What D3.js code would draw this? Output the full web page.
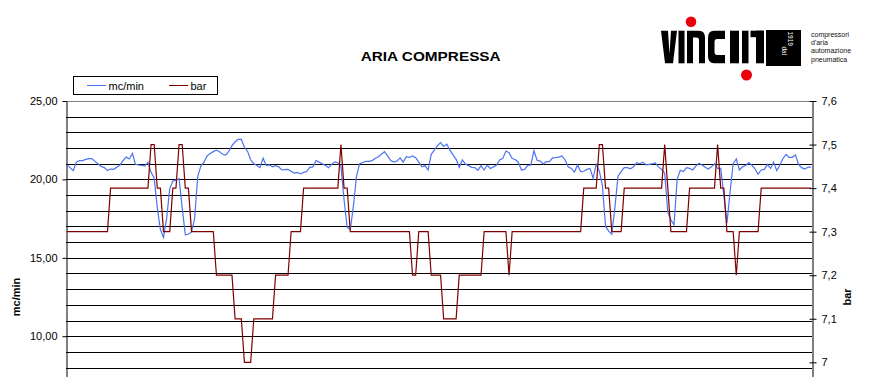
<!DOCTYPE html>
<meta charset="utf-8">

<!-- Load d3.js -->
<script src="https://d3js.org/d3.v7.min.js"></script>

<style>
  body { margin: 0; background: #fff; }
  svg { display: block; font-family: "Liberation Sans", Arial, sans-serif; }
</style>

<!-- Create a div where the graph will take place -->
<div id="my_dataviz"></div>

<script>

// air flow, mc/min (left axis), one value per sample
var flowValues = [
  20.92,20.75,20.56,21.1,21.2,21.2,21.28,21.33,21.33,21.15,20.98,20.82,20.75,20.56,20.66,20.64,20.78,20.92,21.2,21.42,
  21.3,21.66,20.96,20.92,20.9,20.85,21.1,20.45,20.1,18.2,16.8,16.3,17.5,19.4,19.9,19.95,20.05,18.2,16.46,16.5,
  16.65,17.5,20.2,20.85,21.1,21.5,21.65,21.77,21.87,21.77,21.6,21.55,21.8,22.15,22.4,22.55,22.55,22.05,21.8,21.25,
  21.0,20.88,20.75,21.35,20.88,20.93,20.8,20.87,20.8,20.6,20.62,20.64,20.52,20.4,20.45,20.35,20.45,20.5,20.77,20.8,
  21.2,21.1,21.0,20.88,20.75,20.96,21.12,21.06,20.85,18.7,16.95,16.8,18.3,20.2,21.0,21.08,21.15,21.15,21.2,21.33,
  21.45,21.6,21.77,21.5,21.2,21.1,21.17,21.37,21.1,21.45,21.4,21.5,21.39,21.1,20.8,20.88,20.6,21.6,21.87,22.15,
  22.35,22.1,22.25,21.87,21.56,21.28,20.77,21.24,20.97,20.88,20.77,20.75,20.58,20.88,20.6,20.9,20.7,20.8,20.92,21.24,
  21.34,21.81,21.7,21.33,21.27,21.08,20.6,20.64,20.9,20.92,21.83,21.22,21.17,20.98,21.13,21.13,21.37,21.39,21.42,21.5,
  21.24,20.8,20.7,20.47,20.92,20.5,20.52,20.64,20.7,20.07,20.96,20.52,19.6,17.0,16.7,16.5,18.2,20.2,20.5,20.75,
  20.75,20.68,20.8,21.07,21.0,21.1,20.92,20.96,21.0,21.05,20.8,20.64,20.4,17.9,17.42,17.1,20.0,20.58,20.5,20.75,
  20.7,20.6,20.85,21.03,20.92,20.78,20.66,20.8,21.0,20.7,20.7,19.0,17.2,19.2,21.0,21.3,20.6,20.8,20.88,21.07,
  20.9,20.68,20.33,20.6,20.64,20.96,20.7,21.1,20.56,20.92,21.33,21.6,21.4,21.41,21.56,20.95,20.75,20.66,20.77,20.8
];

// line pressure, bar (right axis)
var pressureValues = [
  7.3,7.3,7.3,7.3,7.3,7.3,7.3,7.3,7.3,7.3,7.3,7.3,7.3,7.3,7.4,7.4,7.4,7.4,7.4,7.4,
  7.4,7.4,7.4,7.4,7.4,7.4,7.4,7.5,7.5,7.4,7.4,7.3,7.3,7.3,7.4,7.4,7.5,7.5,7.4,7.4,
  7.3,7.3,7.3,7.3,7.3,7.3,7.3,7.3,7.2,7.2,7.2,7.2,7.2,7.2,7.1,7.1,7.1,7.0,7.0,7.0,
  7.1,7.1,7.1,7.1,7.1,7.1,7.1,7.2,7.2,7.2,7.2,7.2,7.3,7.3,7.3,7.3,7.4,7.4,7.4,7.4,
  7.4,7.4,7.4,7.4,7.4,7.4,7.4,7.4,7.5,7.4,7.4,7.3,7.3,7.3,7.3,7.3,7.3,7.3,7.3,7.3,
  7.3,7.3,7.3,7.3,7.3,7.3,7.3,7.3,7.3,7.3,7.3,7.2,7.2,7.3,7.3,7.3,7.3,7.2,7.2,7.2,
  7.2,7.1,7.1,7.1,7.1,7.1,7.2,7.2,7.2,7.2,7.2,7.2,7.2,7.2,7.3,7.3,7.3,7.3,7.3,7.3,
  7.3,7.3,7.2,7.3,7.3,7.3,7.3,7.3,7.3,7.3,7.3,7.3,7.3,7.3,7.3,7.3,7.3,7.3,7.3,7.3,
  7.3,7.3,7.3,7.3,7.3,7.3,7.4,7.4,7.4,7.4,7.4,7.5,7.5,7.4,7.4,7.3,7.3,7.3,7.3,7.4,
  7.4,7.4,7.4,7.4,7.4,7.4,7.4,7.4,7.4,7.4,7.4,7.4,7.5,7.4,7.3,7.3,7.3,7.3,7.3,7.3,
  7.4,7.4,7.4,7.4,7.4,7.4,7.4,7.4,7.4,7.5,7.4,7.4,7.3,7.3,7.3,7.2,7.3,7.3,7.3,7.3,
  7.3,7.3,7.3,7.4,7.4,7.4,7.4,7.4,7.4,7.4,7.4,7.4,7.4,7.4,7.4,7.4,7.4,7.4,7.4,7.4
];

var flowTicks = [10, 15, 20, 25];
var pressureTicks = [7, 7.1, 7.2, 7.3, 7.4, 7.5, 7.6];
var seriesNames = ["mc/min", "bar"];
var seriesColors = ["#4b73f2", "#800000"];
var logoLines = ["compressori", "d'aria", "automazione", "pneumatica"];

// set the dimensions of the page and the plot area
var width = 877, height = 377;
var plot = {left: 66, right: 812, top: 101, bottom: 493};

var svg = d3.select("#my_dataviz")
  .append("svg")
    .attr("width", width)
    .attr("height", height);

// scales
var x = d3.scaleLinear()
  .domain([0, flowValues.length - 1])
  .range([plot.left + 1, plot.right - 1]);

var yLeft = d3.scaleLinear()
  .domain([0, 25])
  .range([plot.bottom, plot.top]);

var yRight = d3.scaleLinear()
  .domain([6.7, 7.6])
  .range([plot.bottom, plot.top]);

var comma = function(s) { return s.replace(".", ","); };

// gridlines, one per unit of the left axis
svg.append("g")
  .selectAll("line")
  .data(d3.range(0, 25))
  .enter()
  .append("line")
    .attr("x1", plot.left)
    .attr("x2", plot.right)
    .attr("y1", function(d) { return Math.round(yLeft(d)) + 0.5; })
    .attr("y2", function(d) { return Math.round(yLeft(d)) + 0.5; })
    .attr("stroke", "#000")
    .attr("stroke-width", 1);

// plot area top border
svg.append("line")
  .attr("x1", plot.left).attr("x2", plot.right)
  .attr("y1", plot.top + 0.5).attr("y2", plot.top + 0.5)
  .attr("stroke", "#808080");

// left axis
var leftAxis = svg.append("g")
  .attr("transform", "translate(" + (plot.left + 0.5) + ",0)")
  .call(d3.axisLeft(yLeft)
    .tickValues(flowTicks)
    .tickSize(4)
    .tickSizeOuter(0)
    .tickPadding(5)
    .tickFormat(function(d) { return comma(d3.format(".2f")(d)); }));

// right axis
var rightAxis = svg.append("g")
  .attr("transform", "translate(" + (plot.right + 0.5) + ",0)")
  .call(d3.axisRight(yRight)
    .tickValues(pressureTicks)
    .tickSize(4)
    .tickSizeOuter(0)
    .tickPadding(5)
    .tickFormat(function(d) { return comma(d3.format("~g")(d)); }));
rightAxis.selectAll(".tick line").attr("x1", -3);

[leftAxis, rightAxis].forEach(function(a) {
  a.select(".domain").attr("stroke", "#000");
  a.selectAll(".tick line").attr("stroke", "#000");
  a.selectAll(".tick text")
    .attr("fill", "#000")
    .style("font-size", "11px")
    .style("font-family", "'Liberation Sans', Arial, sans-serif");
});

// the two series
var flowLine = d3.line()
  .x(function(d, i) { return x(i); })
  .y(function(d) { return yLeft(d); });

var pressureLine = d3.line()
  .x(function(d, i) { return x(i); })
  .y(function(d) { return yRight(d); });

svg.append("path")
  .datum(flowValues)
  .attr("fill", "none")
  .attr("stroke", seriesColors[0])
  .attr("stroke-width", 1.2)
  .attr("d", flowLine);

svg.append("path")
  .datum(pressureValues)
  .attr("fill", "none")
  .attr("stroke", seriesColors[1])
  .attr("stroke-width", 1.2)
  .attr("d", pressureLine);

// axis titles
svg.append("text")
  .attr("transform", "translate(20,297) rotate(-90)")
  .attr("text-anchor", "middle")
  .style("font-size", "11px")
  .style("font-weight", "bold")
  .text(seriesNames[0]);

svg.append("text")
  .attr("transform", "translate(851,297) rotate(-90)")
  .attr("text-anchor", "middle")
  .style("font-size", "11px")
  .style("font-weight", "bold")
  .text(seriesNames[1]);

// title
svg.append("text")
  .attr("x", 360.7)
  .attr("y", 61)
  .attr("textLength", 140)
  .attr("lengthAdjust", "spacingAndGlyphs")
  .style("font-size", "12.5px")
  .style("font-weight", "bold")
  .text("ARIA COMPRESSA");

// legend
var legend = svg.append("g");
legend.append("rect")
  .attr("x", 73.5).attr("y", 76.5)
  .attr("width", 144).attr("height", 18)
  .attr("fill", "#fff")
  .attr("stroke", "#000");

var legendX = [87, 169];
seriesNames.forEach(function(name, i) {
  legend.append("line")
    .attr("x1", legendX[i]).attr("x2", legendX[i] + 19)
    .attr("y1", 85.5).attr("y2", 85.5)
    .attr("stroke", seriesColors[i]);
  legend.append("text")
    .attr("x", legendX[i] + 21.5)
    .attr("y", 89.5)
    .style("font-size", "11px")
    .text(name);
});

// logo
var logo = svg.append("g");
logo.append("polygon")
  .attr("points", "661,30.7 668,30.7 669.5,54 671,30.7 677,30.7 673,63.3 665,63.3");
logo.append("rect").attr("x", 678.5).attr("y", 30.7).attr("width", 6).attr("height", 32.6);
logo.append("path")
  .attr("d", "M687,63.3V30.7H699Q705,30.7 705,38V63.3H699V40Q699,37.5 696.5,37.5H693V63.3Z");
logo.append("path")
  .attr("d", "M725,30.7H714Q708,30.7 708,38V56Q708,63.3 714,63.3H725V55H717Q714.5,55 714.5,52V42Q714.5,39 717,39H725Z");
logo.append("rect").attr("x", 730).attr("y", 30.7).attr("width", 9).attr("height", 32.6);
logo.append("rect").attr("x", 742).attr("y", 30.7).attr("width", 6.5).attr("height", 32.6);
logo.append("rect").attr("x", 750.5).attr("y", 30.7).attr("width", 13.5).attr("height", 6.5);
logo.append("rect").attr("x", 756).attr("y", 30.7).attr("width", 8).attr("height", 32.6);
logo.append("circle").attr("cx", 691).attr("cy", 21.7).attr("r", 5.3).attr("fill", "#e8000b");
logo.append("circle").attr("cx", 746.5).attr("cy", 75).attr("r", 5.5).attr("fill", "#e8000b");
logo.append("rect").attr("x", 766).attr("y", 30).attr("width", 35).attr("height", 36);
logo.append("text")
  .attr("transform", "translate(787.5,31.5) rotate(90)")
  .attr("fill", "#fff")
  .style("font-size", "6.5px")
  .text("1919");
logo.append("text")
  .attr("transform", "translate(781.5,46.5) rotate(90)")
  .attr("fill", "#fff")
  .style("font-size", "6.5px")
  .text("dal");
logo.selectAll("text.sub")
  .data(logoLines)
  .enter()
  .append("text")
    .attr("class", "sub")
    .attr("x", 811)
    .attr("y", function(d, i) { return 36.7 + i * 8.3; })
    .attr("fill", "#111")
    .style("font-size", "7px")
    .text(function(d) { return d; });

</script>
